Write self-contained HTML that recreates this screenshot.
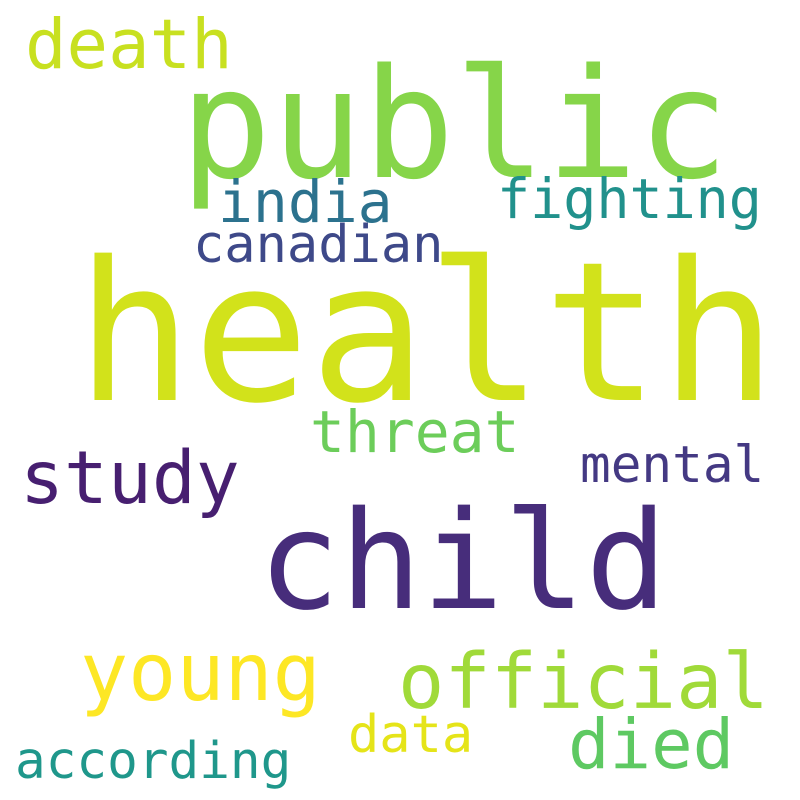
<!DOCTYPE html>
<html>
<head>
<meta charset="utf-8">
<style>
html,body{margin:0;padding:0;background:#fff;}
svg{display:block;}
text{font-family:"DejaVu Sans Mono","Liberation Mono",monospace;}
</style>
</head>
<body>
<svg width="800" height="800" viewBox="0 0 800 800">
<rect width="800" height="800" fill="#ffffff"/>
<text x="76" y="400" font-size="194" fill="#d2e21b">health</text>
<text x="180" y="177" font-size="152" fill="#86d549">public</text>
<text x="258" y="608" font-size="136" fill="#472d7b">child</text>
<text x="20" y="503" font-size="73" fill="#471f70">study</text>
<text x="80" y="700" font-size="80" fill="#fde725">young</text>
<text x="398" y="708" font-size="77" fill="#a0da39">official</text>
<text x="568" y="768" font-size="69" fill="#5ec962">died</text>
<text x="25" y="68" font-size="69" fill="#c8e020">death</text>
<text x="218" y="222" font-size="58" fill="#2c728e">india</text>
<text x="497" y="218" font-size="55" fill="#21918c">fighting</text>
<text x="193" y="262" font-size="52" fill="#3e4989">canadian</text>
<text x="310" y="452" font-size="58" fill="#6ccd5a">threat</text>
<text x="580" y="482" font-size="51" fill="#443983">mental</text>
<text x="348" y="752" font-size="52" fill="#e5e419">data</text>
<text x="15" y="778" font-size="51" fill="#1f978b">according</text>
</svg>
</body>
</html>
